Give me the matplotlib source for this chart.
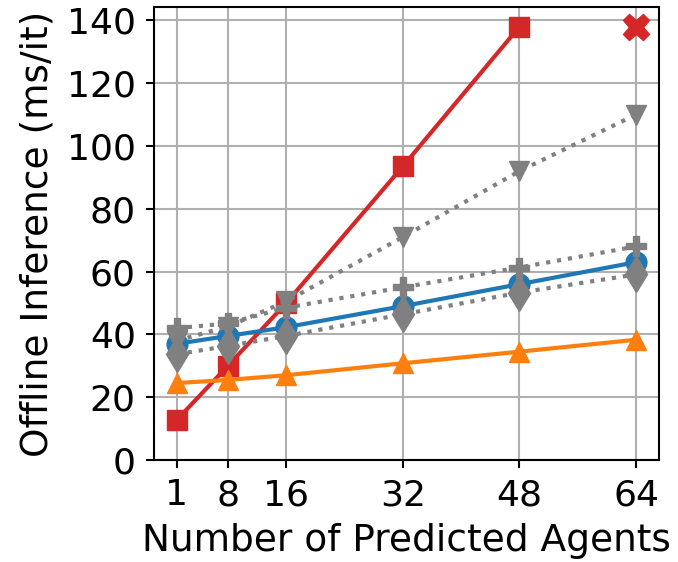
import matplotlib
matplotlib.use('Agg')
import matplotlib.pyplot as plt

agents = [1, 8, 16, 32, 48, 64]

# measured series
red_ms = [12.8, 30.0, 50.0, 93.5, 138.0]      # OOM at 64
red_oom = [138.0]
blue_ms = [37.0, 39.5, 42.3, 49.0, 56.0, 63.0]
orange_ms = [24.5, 25.5, 27.0, 30.8, 34.5, 38.3]

# gray dotted reference lines
gray_down = [38.0, 42.5, 50.5, 71.0, 92.0, 110.0]
gray_plus = [42.0, 43.5, 48.5, 55.0, 61.3, 68.0]
gray_diam = [33.7, 36.3, 39.5, 46.4, 53.3, 59.1]

plt.rcParams['font.size'] = 26
plt.rcParams['axes.linewidth'] = 1.5

fig, ax = plt.subplots(figsize=(6.78, 5.62), dpi=100)

ax.plot(agents[:5], red_ms, '-', color='tab:red', lw=3, marker='s', ms=15)
ax.plot(agents[5:], red_oom, linestyle='none', color='tab:red', marker='X', ms=19)
ax.plot(agents, orange_ms, '-', color='tab:orange', lw=3, marker='^', ms=15)
ax.plot(agents, blue_ms, '-', color='tab:blue', lw=3, marker='o', ms=15)

ax.plot(agents, gray_down, ':', color='gray', lw=3, marker='v', ms=15)
ax.plot(agents, gray_plus, ':', color='gray', lw=3, marker='P', ms=15)
ax.plot(agents, gray_diam, ':', color='gray', lw=3, marker='d', ms=18)

ax.set_ylim(bottom=0)
ax.set_xticks(agents)
ax.set_yticks(range(0, 141, 20))
ax.tick_params(length=5.5, width=1.5, pad=7.5)
ax.grid(True, color='#b0b0b0', lw=1.5)
ax.set_xlabel('Number of Predicted Agents', fontsize=27, labelpad=8)
ax.set_ylabel('Offline Inference (ms/it)', fontsize=27, labelpad=8)

plt.subplots_adjust(left=0.227, right=0.972, bottom=0.1815, top=0.9875)
plt.savefig('out.png')
